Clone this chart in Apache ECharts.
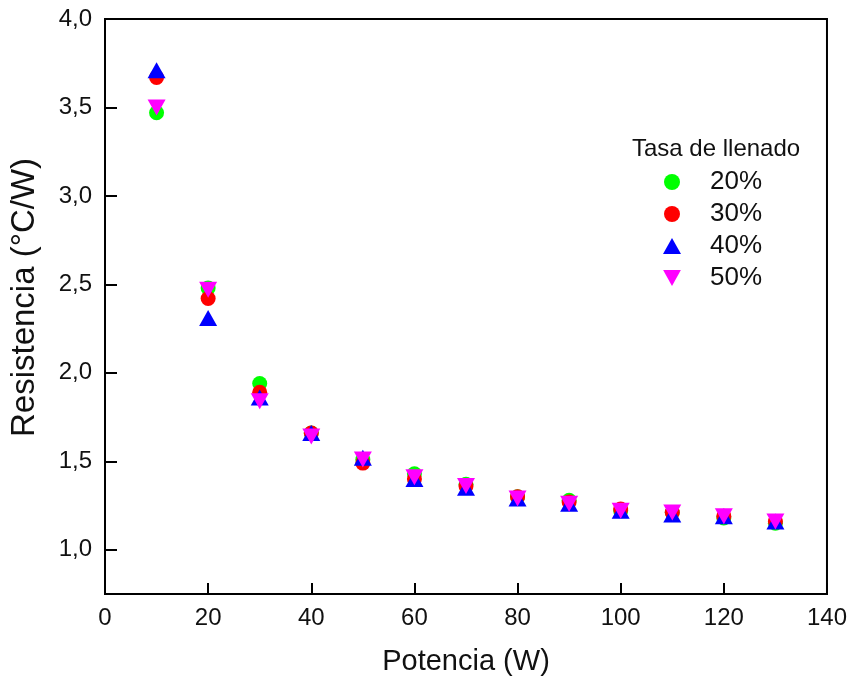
<!DOCTYPE html>
<html>
<head>
<meta charset="utf-8">
<script src="https://cdn.jsdelivr.net/npm/echarts@6/dist/echarts.min.js"></script>
<style>
  html, body { margin: 0; padding: 0; background: #fff; }
  #chart { width: 850px; height: 681px; }
</style>
</head>
<body>
<div id="chart"></div>
<script>
// datos
const potencia = [10, 20, 30, 40, 50, 60, 70, 80, 90, 100, 110, 120, 130]
const tasa20 = [3.47, 2.48, 1.94, 1.66, 1.51, 1.43, 1.37, 1.30, 1.28, 1.22, 1.21, 1.18, 1.15]
const tasa30 = [3.67, 2.42, 1.89, 1.66, 1.49, 1.40, 1.36, 1.30, 1.27, 1.23, 1.21, 1.19, 1.16]
const tasa40 = [3.71, 2.31, 1.86, 1.66, 1.52, 1.40, 1.35, 1.29, 1.26, 1.22, 1.20, 1.19, 1.16]
const tasa50 = [3.50, 2.47, 1.84, 1.64, 1.51, 1.41, 1.36, 1.29, 1.26, 1.22, 1.21, 1.19, 1.16]
const nombres = ['20%', '30%', '40%', '50%']
const yTicks = [1.0, 1.5, 2.0, 2.5, 3.0, 3.5, 4.0]

const downTriangle = 'path://M0,0 L10,0 L5,9 Z'
const font = 'Liberation Sans'

function pares(vals) {
  return potencia.map((p, i) => [p, vals[i]])
}

const option = {
  backgroundColor: '#fff',
  textStyle: { fontFamily: font },
  title: {
    text: 'Tasa de llenado',
    left: 627,
    top: 132,
    textStyle: { fontFamily: font, fontSize: 24, fontWeight: 'normal', color: '#111' }
  },
  legend: {
    orient: 'vertical',
    left: 658,
    top: 164,
    itemWidth: 18,
    itemHeight: 16,
    itemGap: 6,
    data: nombres,
    textStyle: { fontFamily: font, fontSize: 26, color: '#111', lineHeight: 26, padding: [0, 0, 0, 24] }
  },
  grid: {
    left: 102,
    top: 19,
    right: 22,
    bottom: 87,
    show: true,
    borderColor: '#000',
    borderWidth: 2,
    containLabel: false
  },
  xAxis: {
    type: 'value',
    min: 0,
    max: 140,
    interval: 20,
    name: 'Potencia (W)',
    nameLocation: 'middle',
    nameGap: 53,
    nameTextStyle: { fontFamily: font, fontSize: 29, color: '#111' },
    axisLine: { lineStyle: { color: '#000', width: 2 } },
    axisTick: { inside: true, length: 11, lineStyle: { color: '#000', width: 2 } },
    axisLabel: { fontFamily: font, fontSize: 24, color: '#111', margin: 12 },
    splitLine: { show: false }
  },
  yAxis: {
    type: 'value',
    min: 0.75,
    max: 4.0,
    name: 'Resistencia (°C/W)',
    nameLocation: 'middle',
    nameGap: 64,
    nameTextStyle: { fontFamily: font, fontSize: 33, color: '#111', padding: [0, 0, 0, 18] },
    axisLine: { lineStyle: { color: '#000', width: 2 } },
    axisTick: { inside: true, length: 12, customValues: yTicks, lineStyle: { color: '#000', width: 2 } },
    axisLabel: {
      fontFamily: font, fontSize: 24, color: '#111', margin: 13,
      customValues: yTicks,
      formatter: v => v.toFixed(1).replace('.', ',')
    },
    splitLine: { show: false }
  },
  series: [
    {
      name: '20%', type: 'scatter', symbol: 'circle', symbolSize: 15,
      itemStyle: { color: '#00ff00', opacity: 1 }, data: pares(tasa20)
    },
    {
      name: '30%', type: 'scatter', symbol: 'circle', symbolSize: 15,
      itemStyle: { color: '#ff0000', opacity: 1 }, data: pares(tasa30)
    },
    {
      name: '40%', type: 'scatter', symbol: 'triangle', symbolSize: [18, 16],
      itemStyle: { color: '#0000ff', opacity: 1 }, data: pares(tasa40)
    },
    {
      name: '50%', type: 'scatter', symbol: downTriangle, symbolSize: [18, 16],
      itemStyle: { color: '#ff00ff', opacity: 1 }, data: pares(tasa50)
    }
  ]
}

const chart = echarts.init(document.getElementById('chart'))
chart.setOption(option)
</script>
</body>
</html>
